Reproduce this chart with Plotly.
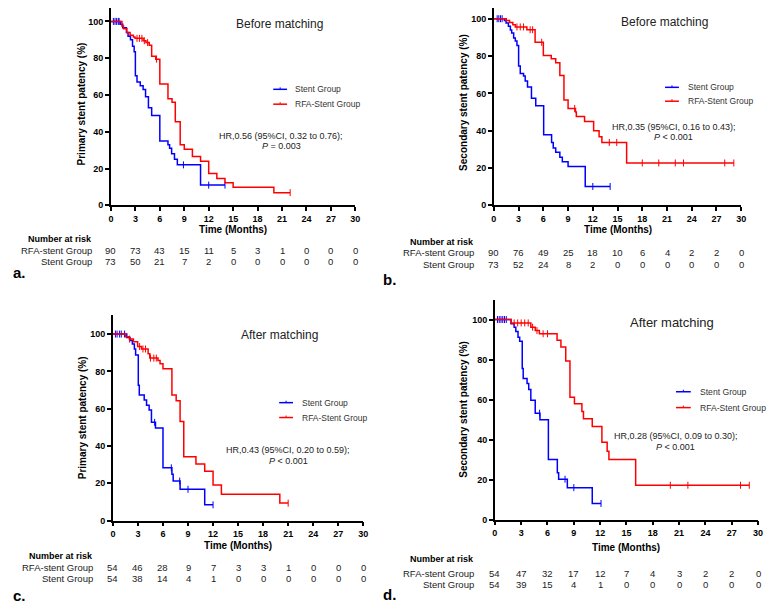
import plotly.graph_objects as go

W, H = 777, 611
OFF = 8  # default page margin around the plot div
FONT = "Arial, Liberation Sans, sans-serif"
BLUE = "#0000ff"
RED = "#ff0000"

risk_times = [0, 3, 6, 9, 12, 15, 18, 21, 24, 27, 30]
x_ticks = [0, 3, 6, 9, 12, 15, 18, 21, 24, 27, 30]
y_ticks = [0, 20, 40, 60, 80, 100]

# a. primary patency, before matching
a_stent_t = [0, 1.15, 1.45, 1.9, 2.1, 2.4, 2.65, 2.85, 3.0, 3.2, 3.6, 3.95, 4.25, 4.6, 5.0, 6.0, 7.0, 7.2, 7.45, 7.8, 8.15, 11.0, 14.0]
a_stent_s = [100, 98.5, 96.5, 94, 92, 90, 86.5, 83.5, 70.5, 67, 65, 63, 59, 53, 48.8, 35, 33, 31, 28, 25, 22, 11, 11]
a_stent_cens = [0.3, 0.5, 0.7, 0.9, 1.0, 8.9, 12.0, 14.0]
a_rfa_t = [0, 1.35, 1.55, 1.95, 2.35, 2.75, 2.95, 3.95, 4.3, 4.7, 5.0, 5.5, 6.0, 7.0, 7.5, 7.9, 8.5, 9.0, 10.0, 11.0, 12.0, 13.0, 14.0, 15.0, 20.0, 22.0]
a_rfa_s = [100, 97.5, 96, 94, 92.5, 91.5, 90.8, 89.5, 88.5, 87, 81, 79.5, 66, 58, 56, 45.5, 33, 30.5, 26.5, 24, 17.3, 14.6, 12.3, 9.8, 6.9, 6.9]
a_rfa_cens = [3.2, 3.5, 3.8, 4.1, 4.5, 5.6, 22.0]
a_risk_rfa = [90, 73, 43, 15, 11, 5, 3, 1, 0, 0, 0]
a_risk_stent = [73, 50, 21, 7, 2, 0, 0, 0, 0, 0, 0]

# b. secondary patency, before matching
b_stent_t = [0, 1.28, 1.48, 1.76, 2.0, 2.16, 2.4, 2.6, 2.8, 3.0, 3.2, 3.6, 3.8, 4.08, 4.56, 5.08, 6.04, 7.0, 7.2, 7.5, 8.0, 8.3, 9.0, 11.08, 14.1]
b_stent_s = [100, 99, 97.7, 96, 94, 92.4, 89.7, 88, 85.6, 74.6, 70.7, 69.3, 66.6, 63.4, 57.4, 53.3, 37.8, 33.7, 30.7, 28.4, 25.8, 23.4, 20.8, 10.1, 10.1]
b_stent_cens = [0.4, 0.6, 0.8, 1.0, 12.0, 14.1]
b_rfa_t = [0, 1.5, 1.9, 2.3, 2.6, 4.0, 5.0, 6.0, 6.96, 7.5, 8.0, 8.5, 9.0, 9.9, 10.0, 11.0, 12.1, 12.76, 13.1, 16.1, 29.1]
b_rfa_s = [100, 99, 98, 96.8, 95.6, 94.1, 87.4, 80.3, 78.5, 76.4, 69.6, 56.5, 51.9, 50, 47.6, 44.9, 40, 36.8, 33.7, 22.7, 22.7]
b_rfa_cens = [2.8, 3.2, 3.6, 4.4, 4.7, 5.8, 9.8, 14.0, 14.9, 18, 20, 22, 23, 28, 29.1]
b_risk_rfa = [90, 76, 49, 25, 18, 10, 6, 4, 2, 2, 0]
b_risk_stent = [73, 52, 24, 8, 2, 0, 0, 0, 0, 0, 0]

# c. primary patency, after matching
c_stent_t = [0, 1.66, 2.05, 2.33, 2.57, 2.72, 3.04, 3.16, 3.75, 4.03, 4.34, 4.62, 5.1, 6.0, 7.07, 7.22, 8.05, 11.0, 12.0]
c_stent_s = [100, 98.2, 96.5, 94.7, 92, 88.8, 72.6, 67.3, 64.6, 61.9, 59.3, 52.7, 49.6, 28.3, 24.8, 21.2, 16.8, 8.5, 8.5]
c_stent_cens = [0.3, 0.5, 0.8, 1.0, 1.4, 5.0, 7.0, 8.0, 9.0, 12.0]
c_rfa_t = [0, 1.54, 1.97, 2.45, 2.96, 3.43, 4.22, 4.42, 5.4, 5.65, 6.0, 7.07, 7.58, 8.05, 8.49, 9.95, 11.0, 12.0, 13.0, 20.0, 21.0]
c_rfa_s = [100, 98.6, 97.3, 95.9, 93.3, 92, 89.4, 87.1, 85.8, 84.1, 81.4, 67.3, 64.2, 53.1, 34.2, 30.4, 26.5, 19.1, 14.2, 9.4, 9.4]
c_rfa_cens = [2.0, 3.2, 3.6, 3.9, 4.5, 4.9, 5.2, 21.0]
c_risk_rfa = [54, 46, 28, 9, 7, 3, 3, 1, 0, 0, 0]
c_risk_stent = [54, 38, 14, 4, 1, 0, 0, 0, 0, 0, 0]

# d. secondary patency, after matching
d_stent_t = [0, 1.84, 2.2, 2.39, 2.64, 2.83, 3.12, 3.23, 3.67, 3.86, 4.1, 4.6, 5.14, 6.1, 7.12, 7.27, 8.26, 11.1, 12.1]
d_stent_s = [100, 97.9, 96.2, 94, 91.2, 89.1, 75.5, 70.6, 68, 65.1, 59.7, 53.2, 49.9, 30.1, 23.5, 20.2, 16, 8.1, 8.1]
d_stent_cens = [0.3, 0.5, 0.7, 0.9, 1.1, 1.3, 5.1, 8.0, 9.0, 12.1]
d_rfa_t = [0, 1.84, 4.1, 4.6, 5.07, 7.09, 7.53, 8.08, 8.56, 9.07, 9.92, 10.1, 11.1, 12.2, 12.8, 13.0, 16.05, 29.0]
d_rfa_s = [100, 98.3, 96.2, 94.5, 92.9, 89.6, 86.3, 79.3, 61.2, 57.9, 54, 50.4, 46.6, 38.7, 34.2, 30.1, 17.2, 17.2]
d_rfa_cens = [2.2, 2.6, 3.0, 3.4, 3.8, 4.3, 4.8, 5.5, 6.0, 20, 22, 28, 29.0]
d_risk_rfa = [54, 47, 32, 17, 12, 7, 4, 3, 2, 2, 0]
d_risk_stent = [54, 39, 15, 4, 1, 0, 0, 0, 0, 0, 0]

titles = ["Before matching", "Before matching", "After matching", "After matching"]
y_titles = ["Primary stent patency (%)", "Secondary stent patency (%)",
            "Primary stent patency (%)", "Secondary stent patency (%)"]
hr_texts = ["HR,0.56 (95%CI, 0.32 to 0.76);", "HR,0.35 (95%CI, 0.16 to 0.43);",
            "HR,0.43 (95%CI, 0.20 to 0.59);", "HR,0.28 (95%CI, 0.09 to 0.30);"]
p_texts = ["<i>P</i> = 0.003", "<i>P</i> < 0.001", "<i>P</i> < 0.001", "<i>P</i> < 0.001"]
panel_labels = ["a.", "b.", "c.", "d."]

# the div sits inside the page margin, so keep the whole page at W x H
FW, FH = W - 2 * OFF, H - 2 * OFF


def px(x):
    return (x - OFF) / FW


def py(y):
    return 1 - (y - OFF) / FH


def step_at(ts, ss, t):
    v = ss[0]
    for ti, si in zip(ts, ss):
        if ti <= t:
            v = si
    return v


def ann(x, y, text, size, xanchor="center", xref="paper", bold=False, color="#222", angle=0):
    return dict(x=px(x) if xref == "paper" else x, y=py(y), xref=xref, yref="paper", text=text,
                xanchor=xanchor, yanchor="middle", showarrow=False, textangle=angle,
                font=dict(family=FONT, size=size, color=color, weight="bold" if bold else "normal"))


# pixel layout of each panel (y1 = pixel row of the 110 end of the y axis)
panels = [
    dict(x0=109, x1=356, y0=207, y1=3, title=(279, 24, 12), ytl=79, xtl=231,
         leg=(273, 287, 90, 105, 293, 8.5), hr=(281, 137, 147),
         nar_r=92, nar=(241, 253, 264), lab=(8, 275),
         curves=[(a_stent_t, a_stent_s, a_stent_cens, BLUE), (a_rfa_t, a_rfa_s, a_rfa_cens, RED)],
         risk=(a_risk_rfa, a_risk_stent)),
    dict(x0=496, x1=746, y0=207, y1=0, title=(668, 22, 12), ytl=466, xtl=231,
         leg=(669, 683, 88, 102, 690, 8.5), hr=(678, 128, 138),
         nar_r=478, nar=(244, 255, 267), lab=(382, 282),
         curves=[(b_stent_t, b_stent_s, b_stent_cens, BLUE), (b_rfa_t, b_rfa_s, b_rfa_cens, RED)],
         risk=(b_risk_rfa, b_risk_stent)),
    dict(x0=111, x1=364, y0=525, y1=318, title=(279, 338, 12), ytl=80, xtl=550,
         leg=(279, 293, 406, 421, 300, 8.5), hr=(288, 454, 465),
         nar_r=93, nar=(561, 572, 583), lab=(8, 600),
         curves=[(c_stent_t, c_stent_s, c_stent_cens, BLUE), (c_rfa_t, c_rfa_s, c_rfa_cens, RED)],
         risk=(c_risk_rfa, c_risk_stent)),
    dict(x0=497, x1=763, y0=524, y1=302, title=(676, 325, 13), ytl=465, xtl=552,
         leg=(680, 695, 395, 411, 702, 8.6), hr=(680, 440, 451),
         nar_r=478, nar=(564, 578, 589), lab=(382, 599),
         curves=[(d_stent_t, d_stent_s, d_stent_cens, BLUE), (d_rfa_t, d_rfa_s, d_rfa_cens, RED)],
         risk=(d_risk_rfa, d_risk_stent)),
]

fig = go.Figure()
annotations = []
shapes = []
layout_axes = {}

for i, p in enumerate(panels):
    n = "" if i == 0 else str(i + 1)
    xa, ya = "x" + n, "y" + n
    ppu = (p["y0"] - p["y1"]) / 110.0
    top = max(p["y1"], OFF)
    ytop = (p["y0"] - top) / ppu
    axis_common = dict(showline=True, linecolor="black", linewidth=1.5, ticks="outside",
                       ticklen=4, tickwidth=1.5, tickcolor="black", showgrid=False,
                       zeroline=False, tickfont=dict(family=FONT, size=9, color="black", weight="bold"))
    layout_axes["xaxis" + n] = dict(axis_common, domain=[px(p["x0"]), px(p["x1"])], range=[0, 30],
                                    tickvals=x_ticks, anchor=ya, fixedrange=True)
    layout_axes["yaxis" + n] = dict(axis_common, domain=[py(p["y0"]), py(top)], range=[0, ytop],
                                    tickvals=y_ticks, anchor=xa, fixedrange=True)

    for ts, ss, cens, color in p["curves"]:
        fig.add_trace(go.Scatter(x=ts, y=ss, mode="lines", xaxis=xa, yaxis=ya, cliponaxis=False,
                                 line=dict(color=color, width=1.5, shape="hv"), hoverinfo="skip"))
        fig.add_trace(go.Scatter(x=cens, y=[step_at(ts, ss, c) for c in cens], mode="markers",
                                 xaxis=xa, yaxis=ya, hoverinfo="skip", cliponaxis=False,
                                 marker=dict(symbol="line-ns", size=5, color=color,
                                             line=dict(color=color, width=1))))

    tx, ty, tsz = p["title"]
    annotations.append(ann(tx, ty, titles[i], tsz))
    annotations.append(ann(p["ytl"], (p["y0"] + p["y1"]) / 2, y_titles[i], 10, bold=True,
                           color="black", angle=-90))
    annotations.append(ann((p["x0"] + p["x1"]) / 2, p["xtl"], "Time (Months)", 10, bold=True,
                           color="black"))
    # legend
    lx0, lx1, ly1, ly2, ltx, lfs = p["leg"]
    for ly, color, label in [(ly1, BLUE, "Stent Group"), (ly2, RED, "RFA-Stent Group")]:
        shapes.append(dict(type="line", xref="paper", yref="paper", x0=px(lx0), x1=px(lx1),
                           y0=py(ly), y1=py(ly), line=dict(color=color, width=1.5)))
        shapes.append(dict(type="line", xref="paper", yref="paper", x0=px((lx0 + lx1) / 2),
                           x1=px((lx0 + lx1) / 2), y0=py(ly - 2), y1=py(ly),
                           line=dict(color=color, width=1)))
        annotations.append(ann(ltx, ly, label, lfs, xanchor="left", color="#333"))
    # HR text
    hx, hy1, hy2 = p["hr"]
    annotations.append(ann(hx, hy1, hr_texts[i], 9))
    annotations.append(ann(hx, hy2, p_texts[i], 9))
    # number at risk table
    ny0, ny1, ny2 = p["nar"]
    annotations.append(ann(p["nar_r"], ny0, "Number at risk", 9, xanchor="right", bold=True,
                           color="black"))
    for ny, label, counts in [(ny1, "RFA-stent Group", p["risk"][0]), (ny2, "Stent Group", p["risk"][1])]:
        annotations.append(ann(p["nar_r"], ny, label, 9.5, xanchor="right"))
        for t, c in zip(risk_times, counts):
            annotations.append(ann(t, ny, str(c), 9.5, xref=xa))
    lbx, lby = p["lab"]
    annotations.append(ann(lbx, lby, panel_labels[i], 15, xanchor="left", bold=True, color="black"))

fig.update_layout(width=FW, height=FH, margin=dict(l=0, r=0, t=0, b=0),
                  paper_bgcolor="white", plot_bgcolor="white", showlegend=False,
                  annotations=annotations, shapes=shapes, **layout_axes)

fig.write_html("out.html")
